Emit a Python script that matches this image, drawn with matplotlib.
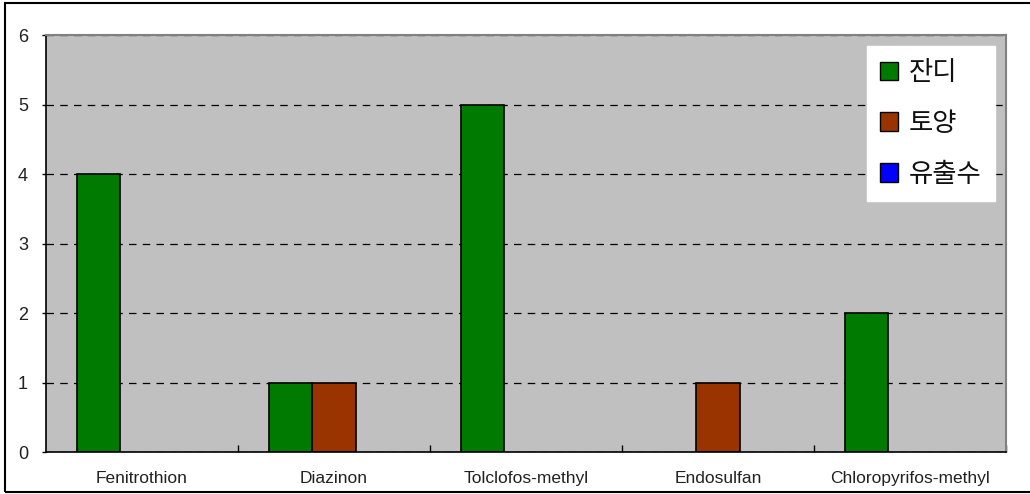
import matplotlib
matplotlib.use("Agg")
import matplotlib.pyplot as plt
import matplotlib.patches as mpatches
import numpy as np

plt.rcParams["font.family"] = ["Noto Sans CJK KR", "DejaVu Sans"]

# detection counts per compound
compounds = ["Fenitrothion", "Diazinon", "Tolclofos-methyl", "Endosulfan", "Chloropyrifos-methyl"]
turf = [4, 1, 5, 0, 2]
soil = [0, 1, 0, 1, 0]
runoff = [0, 0, 0, 0, 0]
series_names = ["잔디", "토양", "유출수"]
series_colors = ["#007A00", "#993300", "#0000FF"]

fig = plt.figure(figsize=(10.3, 4.94), dpi=100)
ax = fig.add_axes([46 / 1030, 1 - 452 / 494, 960 / 1030, 417 / 494])
ax.set_facecolor("#C0C0C0")

x = np.arange(len(compounds))
w = 0.224
for k, (vals, name, col) in enumerate(zip([turf, soil, runoff], series_names, series_colors)):
    vals = np.array(vals, dtype=float)
    h = np.where(vals > 0, vals, np.nan)
    ax.bar(x + (k - 1) * w, h, width=w, color=col, edgecolor="black",
           linewidth=1.2, label=name, zorder=3)

ax.set_xlim(-0.5, len(compounds) - 0.5)
ax.set_ylim(0, 6)
ax.set_yticks(range(0, 7))
ax.yaxis.grid(True, color="black", linestyle=(0, (6, 5)), linewidth=0.9, zorder=1)
ax.set_axisbelow(True)

ax.set_xticks(x)
ax.set_xticklabels(compounds, fontsize=12.5, color="#222222",
                   family=["Liberation Sans", "DejaVu Sans"])
ax.tick_params(axis="x", length=0, pad=14)
ax.set_xticks(np.arange(0.5, len(compounds)), minor=True)
ax.tick_params(axis="x", which="minor", direction="in", length=5, width=1)
ax.tick_params(axis="y", direction="out", length=3, width=1, labelsize=13, pad=10)
for lab in ax.get_yticklabels():
    lab.set_family(["Liberation Sans", "DejaVu Sans"])
    lab.set_color("#222222")

ax.spines["left"].set_color("black")
ax.spines["bottom"].set_color("black")
ax.spines["left"].set_linewidth(1.2)
ax.spines["bottom"].set_linewidth(1.2)
for s in ("top", "right"):
    ax.spines[s].set_color("#808080")
    ax.spines[s].set_linewidth(1.5)
for s in ax.spines.values():
    s.set_zorder(4)

handles = [mpatches.Patch(facecolor=c, edgecolor="black", linewidth=1) for c in series_colors]
leg = ax.legend(handles, series_names, loc="upper right",
                bbox_to_anchor=(995 / 1030, 1 - 46 / 494), bbox_transform=fig.transFigure,
                fontsize=19, frameon=True, fancybox=False, framealpha=1,
                edgecolor="white", facecolor="white", borderpad=0.5,
                labelspacing=0.9, handlelength=0.7, handleheight=0.7,
                handletextpad=0.4, borderaxespad=0)
leg._legend_box.sep = 0
for t in leg.get_texts():
    t.set_color("#111111")

# outer chart border
fig.add_artist(mpatches.Rectangle((5 / 1030, 1 - 492 / 494), 1030 / 1030, 489 / 494,
                                  transform=fig.transFigure, fill=False,
                                  edgecolor="black", linewidth=1.5))

fig.savefig("out.png", dpi=100, facecolor="white")
